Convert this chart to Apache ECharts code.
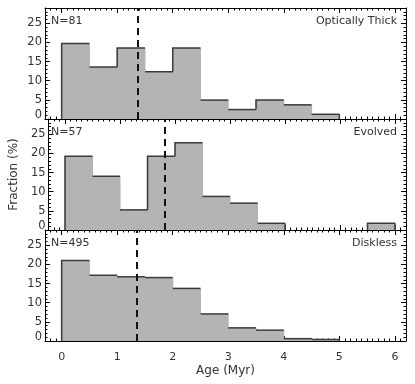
<!DOCTYPE html>
<html>
<head>
<meta charset="utf-8">
<script src="https://cdn.jsdelivr.net/npm/echarts@6/dist/echarts.min.js"></script>
<style>
  html, body { margin: 0; padding: 0; background: #fff; }
  #main { width: 415px; height: 384px; }
</style>
</head>
<body>
<div id="main"></div>
<script>
// age bins (Myr), 0.5 wide
const binEdges = [0, 0.5, 1, 1.5, 2, 2.5, 3, 3.5, 4, 4.5, 5, 5.5, 6];
// fraction (%) per bin
const thickValues = [19.75, 13.58, 18.52, 12.35, 18.52, 4.94, 2.47, 4.94, 3.70, 1.23, 0, 0];
const evolvedValues = [19.30, 14.04, 5.26, 19.30, 22.81, 8.77, 7.02, 1.75, 0, 0, 0, 1.75];
const disklessValues = [21.01, 17.17, 16.77, 16.57, 13.74, 7.07, 3.43, 2.83, 0.61, 0.40, 0, 0];
const panelNames = ['Optically Thick', 'Evolved', 'Diskless'];
const panelCounts = ['N=81', 'N=57', 'N=495'];
const medianAges = [1.37, 1.81, 1.35];
const xTicks = [0, 1, 2, 3, 4, 5, 6];
const yTicks = [0, 5, 10, 15, 20, 25];

const panels = [thickValues, evolvedValues, disklessValues];
const gridTops = [8, 119, 230];
const gridH = 111;
const X_MIN = -0.3, X_MAX = 6.2, Y_MIN = 0, Y_MAX = 29;

const xMinor = [];
for (let k = -2; k <= 62; k++) if (k % 10 !== 0) xMinor.push(k / 10);
const yMinor = [];
for (let k = 1; k <= 28; k++) if (k % 5 !== 0) yMinor.push(k);

const FONT = 'DejaVu Sans';
const TXT = '#333';

var chartDom = document.getElementById('main');
var myChart = echarts.init(chartDom);

let grids = [], xAxes = [], yAxes = [], series = [], titles = [];

panels.forEach((values, g) => {
  grids.push({ left: 45, right: 9, top: gridTops[g], height: gridH });

  const xb = { gridIndex: g, type: 'value', min: X_MIN, max: X_MAX, splitLine: { show: false } };
  ['bottom', 'top'].forEach((pos) => {
    xAxes.push({
      ...xb, position: pos,
      axisLine: { show: true, onZero: false, lineStyle: { color: '#000', width: 1 } },
      axisTick: { inside: true, length: 5, customValues: xTicks, lineStyle: { color: '#000' } },
      axisLabel: {
        show: pos === 'bottom' && g === 2, customValues: xTicks, margin: 11,
        fontFamily: FONT, fontSize: 11, color: TXT
      },
      name: pos === 'bottom' && g === 2 ? 'Age (Myr)' : '',
      nameLocation: 'middle', nameGap: 24,
      nameTextStyle: { fontFamily: FONT, fontSize: 12, color: TXT }
    });
    xAxes.push({
      ...xb, position: pos,
      axisLine: { show: false, onZero: false },
      axisTick: { inside: true, length: 2.5, customValues: xMinor, lineStyle: { color: '#000' } },
      axisLabel: { show: false }
    });
  });

  const yb = { gridIndex: g, type: 'value', min: Y_MIN, max: Y_MAX, splitLine: { show: false } };
  ['left', 'right'].forEach((pos) => {
    yAxes.push({
      ...yb, position: pos,
      axisLine: { show: true, onZero: false, lineStyle: { color: '#000', width: 1 } },
      axisTick: { inside: true, length: 5, customValues: yTicks, lineStyle: { color: '#000' } },
      axisLabel: {
        show: pos === 'left', customValues: yTicks, margin: 3,
        fontFamily: FONT, fontSize: 11.5, color: TXT,
        formatter: (v) => (v === 0 ? '{z|0}' : String(v)),
        rich: { z: { fontFamily: FONT, fontSize: 11.5, color: TXT, padding: [0, 0, 8, 0] } }
      },
      name: pos === 'left' && g === 1 ? 'Fraction (%)' : '',
      nameLocation: 'middle', nameGap: 28,
      nameTextStyle: { fontFamily: FONT, fontSize: 12, color: TXT }
    });
    yAxes.push({
      ...yb, position: pos,
      axisLine: { show: false, onZero: false },
      axisTick: { inside: true, length: 2.5, customValues: yMinor, lineStyle: { color: '#000' } },
      axisLabel: { show: false }
    });
  });

  const data = values.map((v, i) => [binEdges[i], binEdges[i + 1], v]);
  series.push({
    type: 'custom',
    xAxisIndex: g * 4,
    yAxisIndex: g * 4,
    encode: { x: [0, 1], y: 2 },
    data: data,
    renderItem: function (params, api) {
      const i = params.dataIndex;
      const v = values[i];
      if (!v) return null;
      const x0 = binEdges[i], x1 = binEdges[i + 1];
      const prev = i > 0 ? values[i - 1] : 0;
      const next = i < values.length - 1 ? values[i + 1] : 0;
      const bl = api.coord([x0, Y_MIN]);
      const tr = api.coord([x1, v]);
      const children = [
        {
          type: 'rect',
          shape: { x: bl[0] - 0.5, y: tr[1], width: tr[0] - bl[0] + 1, height: bl[1] - tr[1] },
          style: { fill: '#b4b4b4' }
        },
        {
          type: 'polyline',
          shape: { points: [api.coord([x0, Math.min(prev, v)]), api.coord([x0, v]), api.coord([x1, v])] },
          style: { stroke: '#3a3a3a', lineWidth: 1.5, fill: null },
          z2: 5
        }
      ];
      if (!next) {
        children.push({
          type: 'line',
          shape: { x1: tr[0], y1: tr[1], x2: tr[0], y2: bl[1] },
          style: { stroke: '#3a3a3a', lineWidth: 1.5 },
          z2: 5
        });
      }
      return { type: 'group', children: children };
    },
    z: 2
  });

  series.push({
    type: 'line',
    xAxisIndex: g * 4,
    yAxisIndex: g * 4,
    data: [],
    markLine: {
      silent: true,
      symbol: 'none',
      label: { show: false },
      lineStyle: { color: '#111', width: 2, type: [7, 5] },
      data: [{ xAxis: medianAges[g] }]
    },
    z: 3
  });

  titles.push({
    text: panelCounts[g], left: 51, top: gridTops[g] + 8,
    textStyle: { fontFamily: FONT, fontSize: 11, fontWeight: 'normal', color: TXT }, padding: 0
  });
  titles.push({
    text: panelNames[g], right: 18, top: gridTops[g] + 8,
    textStyle: { fontFamily: FONT, fontSize: 11, fontWeight: 'normal', color: TXT }, padding: 0
  });
});

var option = {
  animation: false,
  backgroundColor: '#fff',
  title: titles,
  grid: grids,
  xAxis: xAxes,
  yAxis: yAxes,
  series: series
};

option && myChart.setOption(option);

window.addEventListener('resize', () => {
  myChart.resize();
});
</script>
</body>
</html>
